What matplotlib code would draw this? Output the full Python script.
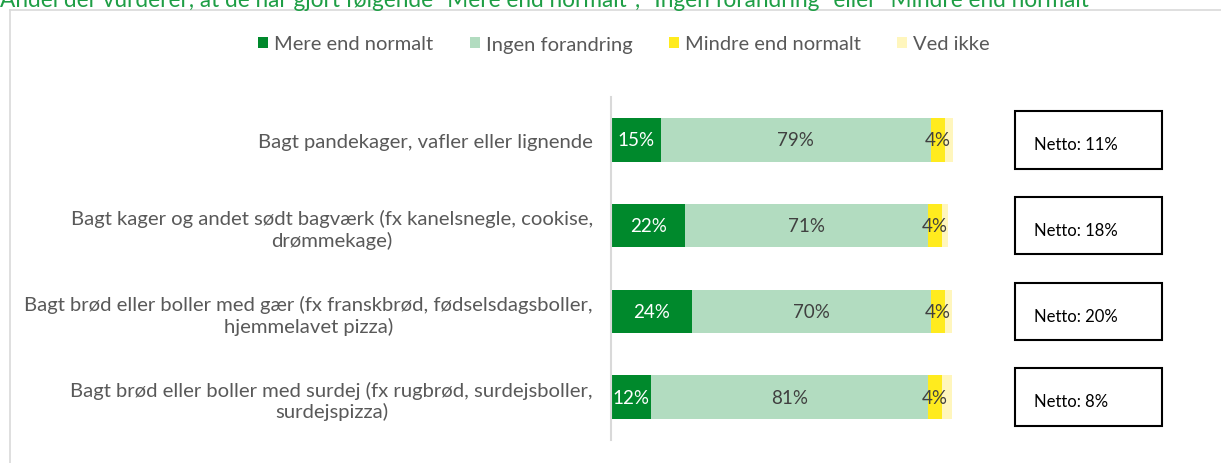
import matplotlib
matplotlib.use('Agg')
import matplotlib.pyplot as plt
from matplotlib.patches import Rectangle
from matplotlib.lines import Line2D
from matplotlib.transforms import blended_transform_factory

plt.rcParams['font.family'] = ['Lato', 'DejaVu Sans']

title = ('Andel der vurderer, at de har gjort følgende "Mere end normalt", '
         '"Ingen forandring" eller "Mindre end normalt"')
categories = [
    "Bagt pandekager, vafler eller lignende",
    "Bagt kager og andet sødt bagværk (fx kanelsnegle, cookise,\ndrømmekage)",
    "Bagt brød eller boller med gær (fx franskbrød, fødselsdagsboller,\nhjemmelavet pizza)",
    "Bagt brød eller boller med surdej (fx rugbrød, surdejsboller,\nsurdejspizza)",
]
series_names = ["Mere end normalt", "Ingen forandring", "Mindre end normalt", "Ved ikke"]
mere = [14.6, 21.7, 23.7, 11.7]
ingen = [78.9, 71.1, 69.9, 81.0]
mindre = [4.1, 3.9, 4.1, 4.0]
ved_ikke = [3.0, 1.9, 2.0, 2.9]
netto = [11, 18, 20, 8]

colors = ['#00892c', '#b2dcc0', '#ffeb1e', '#fff6bd']
label_colors = ['white', '#404040', '#404040', None]

W, H = 1221, 464
fig = plt.figure(figsize=(W / 100, H / 100), dpi=100)
ax = fig.add_axes([611 / W, 1 - 441 / H, 342 / W, 343 / H])

ypos = list(range(len(categories)))
left = [0.0] * len(categories)
for name, vals, col, lc in zip(series_names, [mere, ingen, mindre, ved_ikke], colors, label_colors):
    bars = ax.barh(ypos, vals, left=left, height=0.51, color=col, label=name)
    if lc is not None:
        ax.bar_label(bars, labels=[f"{v:.0f}%" for v in vals], label_type='center',
                     color=lc, fontsize=13.5)
    left = [l + v for l, v in zip(left, vals)]

ax.set_xlim(0, 100)
ax.set_ylim(3.5, -0.5)
ax.set_xticks([])
ax.set_yticks(ypos)
ax.set_yticklabels(categories)
for t in ax.get_yticklabels():
    t.set_multialignment('center')
    t.set_linespacing(1.25)
ax.tick_params(axis='y', length=0, pad=13, labelsize=14.6, labelcolor='#595959')
for s in ['top', 'right', 'bottom']:
    ax.spines[s].set_visible(False)
ax.spines['left'].set_color('#d9d9d9')
ax.spines['left'].set_linewidth(1.5)

trans = blended_transform_factory(fig.transFigure, ax.transData)
for i, n in enumerate(netto):
    rect = Rectangle((1015 / W, i - 0.335), 147 / W, 0.67, transform=trans,
                     fill=False, edgecolor='black', lw=1.5, clip_on=False)
    ax.add_patch(rect)
    ax.text(1034 / W, i + 0.05, f"Netto: {n}%", transform=trans, va='center',
            ha='left', fontsize=12, color='black', clip_on=False)

fig.legend(loc='center', bbox_to_anchor=(624 / W, 1 - 45 / H), ncol=4, frameon=False,
           handlelength=0.5, handleheight=0.5, handletextpad=0.3, columnspacing=1.8,
           fontsize=14.5, labelcolor='#595959')

fig.add_artist(Line2D([10 / W, 10 / W], [0, 1 - 11 / H], color='#d9d9d9', lw=1.2))
fig.add_artist(Line2D([10 / W, 1], [1 - 11 / H, 1 - 11 / H], color='#d9d9d9', lw=1.2))

fig.text(0.0, 1 - 7 / H, title, color='#1e9e45', fontsize=16.3, va='baseline', ha='left')

fig.savefig('out.png', dpi=100)
